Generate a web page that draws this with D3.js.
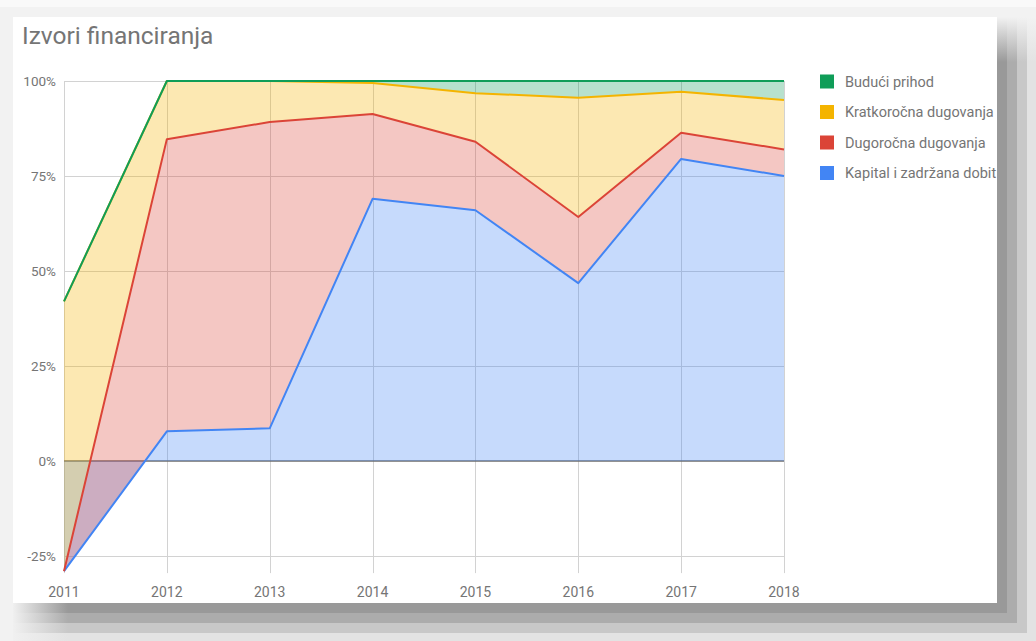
<!DOCTYPE html>
<html>
<head>
<meta charset="utf-8">
<script src="https://cdn.jsdelivr.net/npm/d3@7"></script>
<style>
  body { margin: 0; background: #f4f4f4; }
  svg { display: block; font-family: Roboto, Arial, sans-serif; }
</style>
</head>
<body>
<div id="chart"></div>
<script>
// Data (percent shares of financing sources)
const years = [2011, 2012, 2013, 2014, 2015, 2016, 2017, 2018];
const kapital = [-29, 7.8, 8.6, 69, 66, 46.8, 79.5, 75];
const dugorocna = [0, 76.9, 80.6, 22.3, 18, 17.4, 6.9, 7];
const kratkorocna = [71, 15.3, 10.8, 8.2, 12.8, 31.4, 10.8, 13];
const buduci = [0, 0, 0, 0.5, 3.2, 4.4, 2.8, 5];
const yTicks = [-25, 0, 25, 50, 75, 100];

const seriesNames = ["Kapital i zadržana dobit", "Dugoročna dugovanja", "Kratkoročna dugovanja", "Budući prihod"];
const seriesColors = ["#4285f4", "#db4437", "#f4b400", "#0f9d58"];
const seriesValues = [kapital, dugorocna, kratkorocna, buduci];

const W = 1036, H = 641;
const svg = d3.select("#chart").append("svg")
    .attr("width", W)
    .attr("height", H);

// page background + card
svg.append("rect").attr("width", W).attr("height", H).attr("fill", "#f2f2f2");
svg.append("rect").attr("width", W).attr("height", 7).attr("fill", "#f9f9f9");
svg.append("rect").attr("x", 13).attr("y", 17).attr("width", 984).attr("height", 586).attr("fill", "#fff");

// scales
const x = d3.scaleLinear().domain([2011, 2018]).range([64, 784]);
const y = d3.scaleLinear().domain([0, 100]).range([461, 81]);
const yBottom = y(-29.5);

// gridlines
const grid = svg.append("g").attr("stroke", "#d2d2d2").attr("stroke-width", 1);
grid.selectAll(".hg").data(yTicks.filter(d => d !== 0)).enter().append("line")
    .attr("x1", x(2011)).attr("x2", x(2018))
    .attr("y1", d => Math.round(y(d)) + 0.5).attr("y2", d => Math.round(y(d)) + 0.5);
grid.selectAll(".vg").data(years).enter().append("line")
    .attr("x1", d => Math.round(x(d)) + 0.5).attr("x2", d => Math.round(x(d)) + 0.5)
    .attr("y1", y(100)).attr("y2", yBottom);

// baseline
svg.append("line")
    .attr("x1", x(2011)).attr("x2", x(2018))
    .attr("y1", y(0)).attr("y2", y(0))
    .attr("stroke", "#6e6e6e").attr("stroke-width", 1.6);

// stacked cumulative values
const stacks = [];
let prev = years.map(() => 0);
seriesValues.forEach((vals, i) => {
    const top = vals.map((v, j) => prev[j] + v);
    stacks.push(years.map((yr, j) => ({ year: yr, y0: i === 0 ? 0 : prev[j], y1: top[j] })));
    prev = top;
});

const area = d3.area()
    .x(d => x(d.year))
    .y0(d => y(d.y0))
    .y1(d => y(d.y1));
const line = d3.line()
    .x(d => x(d.year))
    .y(d => y(d.y1));

svg.append("g").selectAll("path").data(stacks).enter().append("path")
    .attr("d", area)
    .attr("fill", (d, i) => seriesColors[i])
    .attr("fill-opacity", 0.3);

svg.append("g").selectAll("path").data(stacks).enter().append("path")
    .attr("d", line)
    .attr("fill", "none")
    .attr("stroke", (d, i) => seriesColors[i])
    .attr("stroke-width", 2)
    .attr("stroke-linejoin", "round");

// axes labels
svg.append("g").selectAll("text").data(yTicks).enter().append("text")
    .attr("x", 56)
    .attr("y", d => y(d) + 5)
    .attr("text-anchor", "end")
    .attr("font-size", 13.5)
    .attr("fill", "#757575")
    .text(d => d + "%");

svg.append("g").selectAll("text").data(years).enter().append("text")
    .attr("x", d => x(d))
    .attr("y", 597)
    .attr("text-anchor", "middle")
    .attr("font-size", 14)
    .attr("fill", "#757575")
    .text(d => d);

// title
svg.append("text")
    .attr("x", 22).attr("y", 44)
    .attr("font-size", 24.5)
    .attr("fill", "#757575")
    .text("Izvori financiranja");

// legend (reversed, like Google stacked charts)
const legendRows = [3, 2, 1, 0];
const legend = svg.append("g").selectAll("g").data(legendRows).enter().append("g")
    .attr("transform", (d, i) => `translate(820,${81.5 + i * 30.5})`);
legend.append("rect")
    .attr("x", 0).attr("y", -7)
    .attr("width", 14).attr("height", 14)
    .attr("fill", d => seriesColors[d]);
legend.append("text")
    .attr("x", 25).attr("y", 5)
    .attr("font-size", 14.5)
    .attr("fill", "#757575")
    .text(d => seriesNames[d]);

// card shadow (right and bottom, blocky)
const shades = ["#999999", "#acacac", "#c8c8c8", "#e3e3e3"];
const sh = svg.append("g");
const defs = svg.append("defs");
shades.forEach((c, i) => {
    const gv = defs.append("linearGradient").attr("id", "gv" + i)
        .attr("x1", 0).attr("y1", 0).attr("x2", 0).attr("y2", 1);
    gv.append("stop").attr("offset", 0).attr("stop-color", "#f2f2f2");
    gv.append("stop").attr("offset", 1).attr("stop-color", c);
    sh.append("rect")
        .attr("x", 997 + i * 10).attr("y", 17)
        .attr("width", 10).attr("height", 45)
        .attr("fill", `url(#gv${i})`);
    sh.append("rect")
        .attr("x", 997 + i * 10).attr("y", 62)
        .attr("width", 10).attr("height", 541)
        .attr("fill", c);
    const gh = defs.append("linearGradient").attr("id", "gh" + i)
        .attr("x1", 0).attr("y1", 0).attr("x2", 1).attr("y2", 0);
    gh.append("stop").attr("offset", 0).attr("stop-color", "#f0f0f0");
    gh.append("stop").attr("offset", 1).attr("stop-color", c);
    sh.append("rect")
        .attr("x", 13).attr("y", 603 + i * 10)
        .attr("width", 55).attr("height", 10)
        .attr("fill", `url(#gh${i})`);
    sh.append("rect")
        .attr("x", 68).attr("y", 603 + i * 10)
        .attr("width", 929).attr("height", 10)
        .attr("fill", c);
    shades.forEach((c2, j) => {
        sh.append("rect")
            .attr("x", 997 + i * 10).attr("y", 603 + j * 10)
            .attr("width", 10).attr("height", 10)
            .attr("fill", shades[Math.max(i, j)]);
    });
});
</script>
</body>
</html>
